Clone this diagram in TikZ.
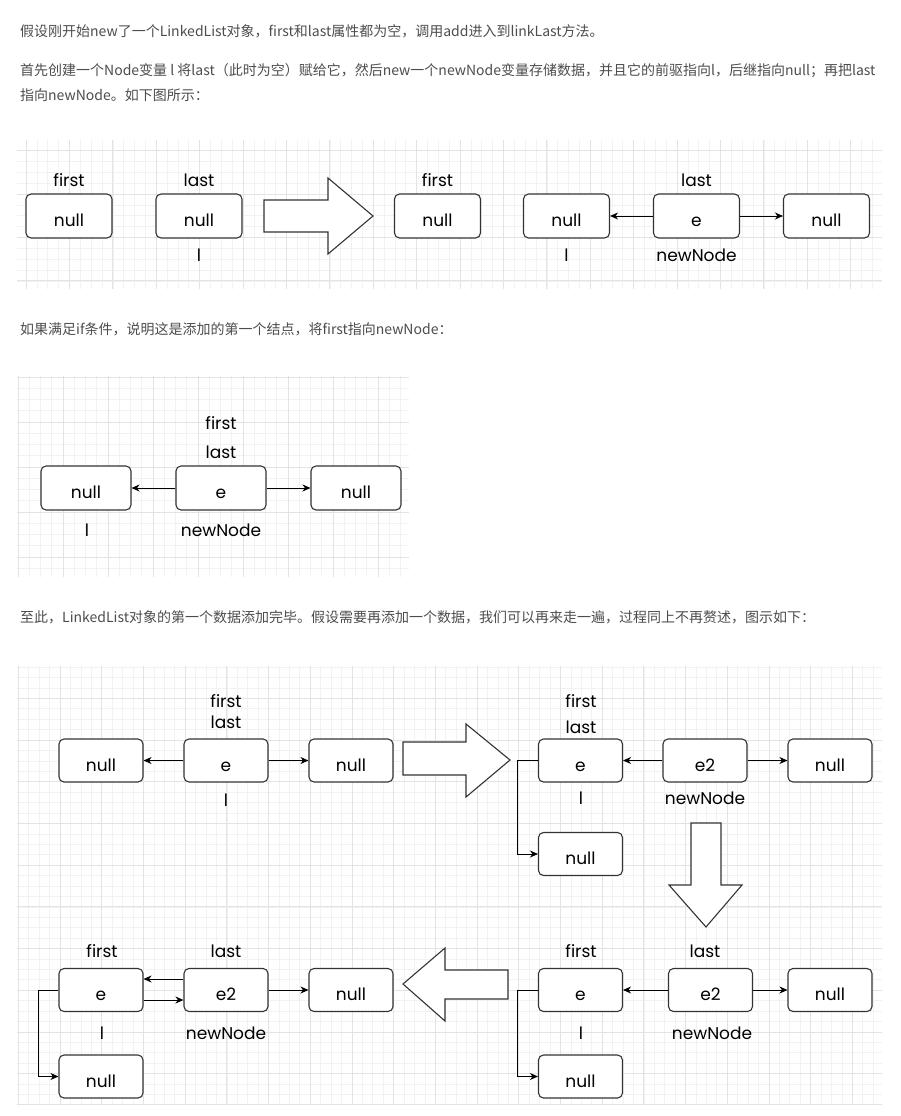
\documentclass[tikz,border=0pt]{standalone}
\usepackage{fontspec}
\usetikzlibrary{arrows.meta}
\newfontfamily\cjk{Noto Sans CJK SC}
\newfontfamily\sketchfont{Poppins}
\definecolor{bodytext}{HTML}{4D4D4D}
\definecolor{gridminor}{HTML}{F2F2F2}
\definecolor{gridmajor}{HTML}{E3E3E3}
\definecolor{stroke}{HTML}{333333}

% light drawing-board grid: #1,#2 top-left, #3,#4 bottom-right,
% #5,#6 a major grid crossing, #7 major spacing
\newcommand\gridpanel[7]{%
  \begin{scope}
    \clip (#1,#2) rectangle (#3,#4);
    \foreach \k in {-90,...,90} {
      \draw[gridminor, line width=0.6pt] ({#5+\k*#7/4},#2) -- ({#5+\k*#7/4},#4);
      \draw[gridminor, line width=0.6pt] (#1,{#6+\k*#7/4}) -- (#3,{#6+\k*#7/4});
    }
    \foreach \k in {-25,...,25} {
      \draw[gridmajor, line width=0.7pt] ({#5+\k*#7},#2) -- ({#5+\k*#7},#4);
      \draw[gridmajor, line width=0.7pt] (#1,{#6+\k*#7}) -- (#3,{#6+\k*#7});
    }
  \end{scope}}

\tikzset{
  cell/.style={draw=stroke, line width=1.1pt, rounded corners=5pt, fill=white,
    minimum width=86pt, minimum height=44pt, inner sep=0pt,
    text height=21pt, text depth=0pt,
    font=\sketchfont\fontsize{17}{17}\selectfont},
  tag/.style={inner sep=0pt, font=\sketchfont\fontsize{17}{17}\selectfont},
  para/.style={anchor=west, inner sep=0pt, text=bodytext,
    font=\cjk\fontsize{14}{14}\selectfont},
  link/.style={draw=black, line width=0.9pt,
    -{Stealth[length=8pt,width=7pt,inset=2.5pt]}},
  bigarrow/.style={draw=stroke, line width=1.1pt, fill=white, line join=miter},
}

\begin{document}
\begin{tikzpicture}[x=1pt, y=-1pt]
\useasboundingbox (0,0) rectangle (900,1116);
\fill[white] (0,0) rectangle (900,1116);

% ---------- text ----------
\node[para] (t1) at (20,31) {假设刚开始new了一个LinkedList对象，first和last属性都为空，调用add进入到linkLast方法。};
\node[para] (t2) at (20,71) {首先创建一个Node变量 l 将last（此时为空）赋给它，然后new一个newNode变量存储数据，并且它的前驱指向l，后继指向null；再把last};
\node[para] (t3) at (20,95) {指向newNode。如下图所示：};
\node[para] (t4) at (20,329) {如果满足if条件，说明这是添加的第一个结点，将first指向newNode：};
\node[para] (t5) at (20,617) {至此，LinkedList对象的第一个数据添加完毕。假设需要再添加一个数据，我们可以再来走一遍，过程同上不再赘述，图示如下：};

% ---------- step 1: create newNode ----------
\gridpanel{17}{140}{882}{289}{26}{194}{43.4}

\node[cell] (a1) at (69,216) {null};
\node[cell] (a2) at (199,216) {null};
\node[tag] (a1f) at (69,180) {first};
\node[tag] (a2l) at (199,180) {last};
\node[tag] (a2v) at (199,255) {l};

\draw[bigarrow] (264,200) -- (328,200) -- (328,178) -- (373,216) -- (328,254) -- (328,232) -- (264,232) -- cycle;

\node[cell] (b1) at (437.5,216) {null};
\node[cell] (b2) at (566.5,216) {null};
\node[cell] (b3) at (696.5,216) {e};
\node[cell] (b4) at (826.5,216) {null};
\node[tag] (b1f) at (437.5,180) {first};
\node[tag] (b3l) at (696.5,180) {last};
\node[tag] (b2v) at (566.5,255) {l};
\node[tag] (b3n) at (696.5,255) {newNode};
\draw[link] (b3) -- (b2);
\draw[link] (b3) -- (b4);

% ---------- step 2: first points to newNode ----------
\gridpanel{17}{376}{409}{577}{18}{467}{45}

\node[cell, minimum width=90pt] (c1) at (86,488) {null};
\node[cell, minimum width=90pt] (c2) at (221,488) {e};
\node[cell, minimum width=90pt] (c3) at (356,488) {null};
\node[tag] (c2f) at (221,423) {first};
\node[tag] (c2l) at (221,452) {last};
\node[tag] (c1v) at (87,530) {l};
\node[tag] (c2n) at (221,530) {newNode};
\draw[link] (c2) -- (c1);
\draw[link] (c2) -- (c3);

% ---------- step 3: adding a second element ----------
\gridpanel{17}{666}{882}{1104}{60}{740}{41.7}
\draw[gridmajor, line width=1pt] (17,1104) -- (882,1104);

% state before
\node[cell, minimum width=84pt, minimum height=43pt] (d1) at (101,760.5) {null};
\node[cell, minimum width=84pt, minimum height=43pt] (d2) at (226,760.5) {e};
\node[cell, minimum width=84pt, minimum height=43pt] (d3) at (351,760.5) {null};
\node[tag] (d2f) at (226,701) {first};
\node[tag] (d2l) at (226,722) {last};
\node[tag] (d2v) at (226,800) {l};
\draw[link] (d2) -- (d1);
\draw[link] (d2) -- (d3);

\draw[bigarrow] (403,742) -- (466,742) -- (466,724) -- (510,760) -- (466,797) -- (466,775) -- (403,775) -- cycle;

% newNode created
\node[cell, minimum width=84pt, minimum height=43pt] (e1) at (580.5,760.5) {e};
\node[cell, minimum width=84pt, minimum height=43pt] (e2) at (705,760.5) {e2};
\node[cell, minimum width=84pt, minimum height=43pt] (e3) at (830,760.5) {null};
\node[cell, minimum width=84pt, minimum height=43pt] (e0) at (580.5,854) {null};
\node[tag] (e1f) at (581,701) {first};
\node[tag] (e1l) at (581,727) {last};
\node[tag] (e1v) at (581,798) {l};
\node[tag] (e2n) at (705,798) {newNode};
\draw[link] (e2) -- (e1);
\draw[link] (e2) -- (e3);
\draw[link] (e1.west) -- ++(-21,0) |- (e0.west);

\draw[bigarrow] (691,823) -- (721,823) -- (721,885) -- (742,885) -- (706,927) -- (669,885) -- (691,885) -- cycle;

% last moved to newNode
\node[cell, minimum width=84pt, minimum height=43pt] (f1) at (580.5,990) {e};
\node[cell, minimum width=84pt, minimum height=43pt] (f2) at (710.5,990) {e2};
\node[cell, minimum width=84pt, minimum height=43pt] (f3) at (830,990) {null};
\node[cell, minimum width=84pt, minimum height=43pt] (f0) at (580.5,1076.5) {null};
\node[tag] (f1f) at (581,951) {first};
\node[tag] (f2l) at (705,951) {last};
\node[tag] (f1v) at (581,1033) {l};
\node[tag] (f2n) at (712,1033) {newNode};
\draw[link] (f2) -- (f1);
\draw[link] (f2) -- (f3);
\draw[link] (f1.west) -- ++(-21,0) |- (f0.west);

\draw[bigarrow] (508,970) -- (445,970) -- (445,948) -- (403,984) -- (445,1021) -- (445,999) -- (508,999) -- cycle;

% e.next linked to newNode
\node[cell, minimum width=84pt, minimum height=43pt] (g1) at (101,990) {e};
\node[cell, minimum width=84pt, minimum height=43pt] (g2) at (226,990) {e2};
\node[cell, minimum width=84pt, minimum height=43pt] (g3) at (351,990) {null};
\node[cell, minimum width=84pt, minimum height=43pt] (g0) at (101,1076.5) {null};
\node[tag] (g1f) at (102,951) {first};
\node[tag] (g2l) at (226,951) {last};
\node[tag] (g1v) at (102,1033) {l};
\node[tag] (g2n) at (226,1033) {newNode};
\draw[link] ([yshift=11pt]g2.west) -- ([yshift=11pt]g1.east);
\draw[link] ([yshift=-10pt]g1.east) -- ([yshift=-10pt]g2.west);
\draw[link] (g2) -- (g3);
\draw[link] (g1.west) -- ++(-20,0) |- (g0.west);
\end{tikzpicture}
\end{document}
